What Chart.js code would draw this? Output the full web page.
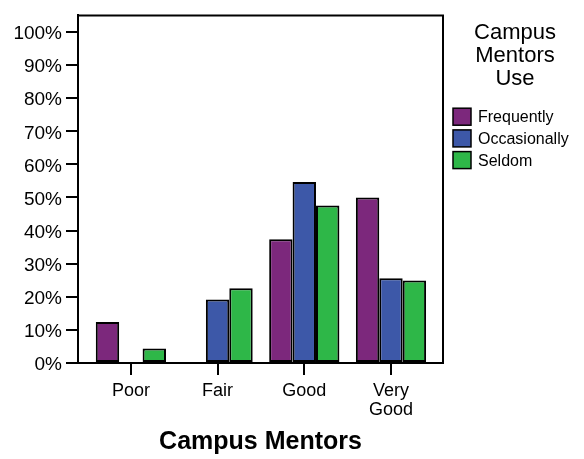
<!DOCTYPE html>
<html>
<head>
<meta charset="utf-8">
<script src="https://cdn.jsdelivr.net/npm/chart.js@4/dist/chart.umd.min.js"></script>
<style>
  html, body { margin: 0; padding: 0; background: #fff; }
  #wrap { width: 584px; height: 459px; position: relative; }
</style>
</head>
<body>
<div id="wrap"><canvas id="c" width="584" height="459"></canvas></div>
<script>
// ---- data ----
const categories = ['Poor', 'Fair', 'Good', ['Very', 'Good']];
const seriesNames = ['Frequently', 'Occasionally', 'Seldom'];
const frequently = [12.4, 0, 37.4, 50.0];
const occasionally = [0, 19.2, 54.7, 25.6];
const seldom = [4.4, 22.6, 47.6, 24.9];
const yTickValues = [0, 10, 20, 30, 40, 50, 60, 70, 80, 90, 100];
const legendTitle = ['Campus', 'Mentors', 'Use'];
const xTitle = 'Campus Mentors';

const colors = ['#7C287C', '#3D58A8', '#2EB748'];
const FONT = "'Liberation Sans', Arial, Helvetica, sans-serif";

const seriesValues = [frequently, occasionally, seldom];
const datasets = seriesNames.map((name, s) => ({
  label: name,
  data: seriesValues[s].map((v, i) => ({ x: i, y: v })),
  backgroundColor: colors[s],
  borderColor: '#000',
  borderWidth: 2,
  borderSkipped: false,
  categoryPercentage: 0.81,
  barPercentage: 1.0
}));

const framePlugin = {
  id: 'frame',
  afterDatasetsDraw(chart) {
    const { ctx, chartArea: a } = chart;
    ctx.save();
    ctx.strokeStyle = '#000';
    ctx.lineWidth = 2;
    ctx.beginPath();
    ctx.moveTo(a.left, a.top);
    ctx.lineTo(a.right, a.top);
    ctx.lineTo(a.right, a.bottom);
    ctx.stroke();
    ctx.restore();
  },
  afterDraw(chart) {
    const { ctx } = chart;
    ctx.save();
    ctx.fillStyle = '#000';
    ctx.textAlign = 'center';
    ctx.textBaseline = 'middle';
    ctx.font = '22px ' + FONT;
    legendTitle.forEach((t, i) => ctx.fillText(t, 515, 33 + i * 23));
    ctx.font = '16px ' + FONT;
    ctx.textAlign = 'left';
    chart.data.datasets.forEach((ds, i) => {
      const cy = 116.7 + i * 21.7;
      ctx.fillStyle = ds.backgroundColor;
      ctx.fillRect(453, cy - 8.5, 18, 17);
      ctx.strokeStyle = '#000';
      ctx.lineWidth = 1.5;
      ctx.strokeRect(453, cy - 8.5, 18, 17);
      ctx.fillStyle = '#000';
      ctx.fillText(ds.label, 478, cy + 1);
    });
    ctx.restore();
  }
};

new Chart(document.getElementById('c'), {
  type: 'bar',
  data: { datasets },
  options: {
    responsive: false,
    animation: false,
    events: [],
    layout: { padding: { top: 10, right: 141, left: 0, bottom: 0 } },
    plugins: { legend: { display: false }, tooltip: { enabled: false } },
    scales: {
      x: {
        type: 'linear',
        offset: false,
        min: -0.61,
        max: 3.6,
        afterBuildTicks: s => { s.ticks = categories.map((c, i) => ({ value: i })); },
        afterFit: s => { s.height = 96; },
        grid: { display: true, offset: false, drawOnChartArea: false, drawTicks: true, tickLength: 12, color: '#000', lineWidth: 2 },
        border: { display: true, color: '#000', width: 2 },
        ticks: {
          autoSkip: false,
          maxRotation: 0,
          padding: 7,
          color: '#000',
          font: { family: FONT, size: 18, lineHeight: 1.02 },
          callback: v => categories[v]
        },
        title: {
          display: true,
          text: xTitle,
          color: '#000',
          font: { family: FONT, size: 25, weight: 'bold', lineHeight: 1.2 },
          padding: { top: 0, bottom: 2 }
        }
      },
      y: {
        min: 0,
        max: 105,
        afterBuildTicks: s => { s.ticks = yTickValues.map(v => ({ value: v })); },
        afterFit: s => { s.width = 78; },
        grid: { display: true, drawOnChartArea: false, drawTicks: true, tickLength: 12, color: '#000', lineWidth: 2 },
        border: { display: true, color: '#000', width: 2 },
        ticks: {
          padding: 4,
          labelOffset: 2,
          color: '#000',
          font: { family: FONT, size: 19 },
          callback: v => v + '%'
        }
      }
    }
  },
  plugins: [framePlugin]
});
</script>
</body>
</html>
